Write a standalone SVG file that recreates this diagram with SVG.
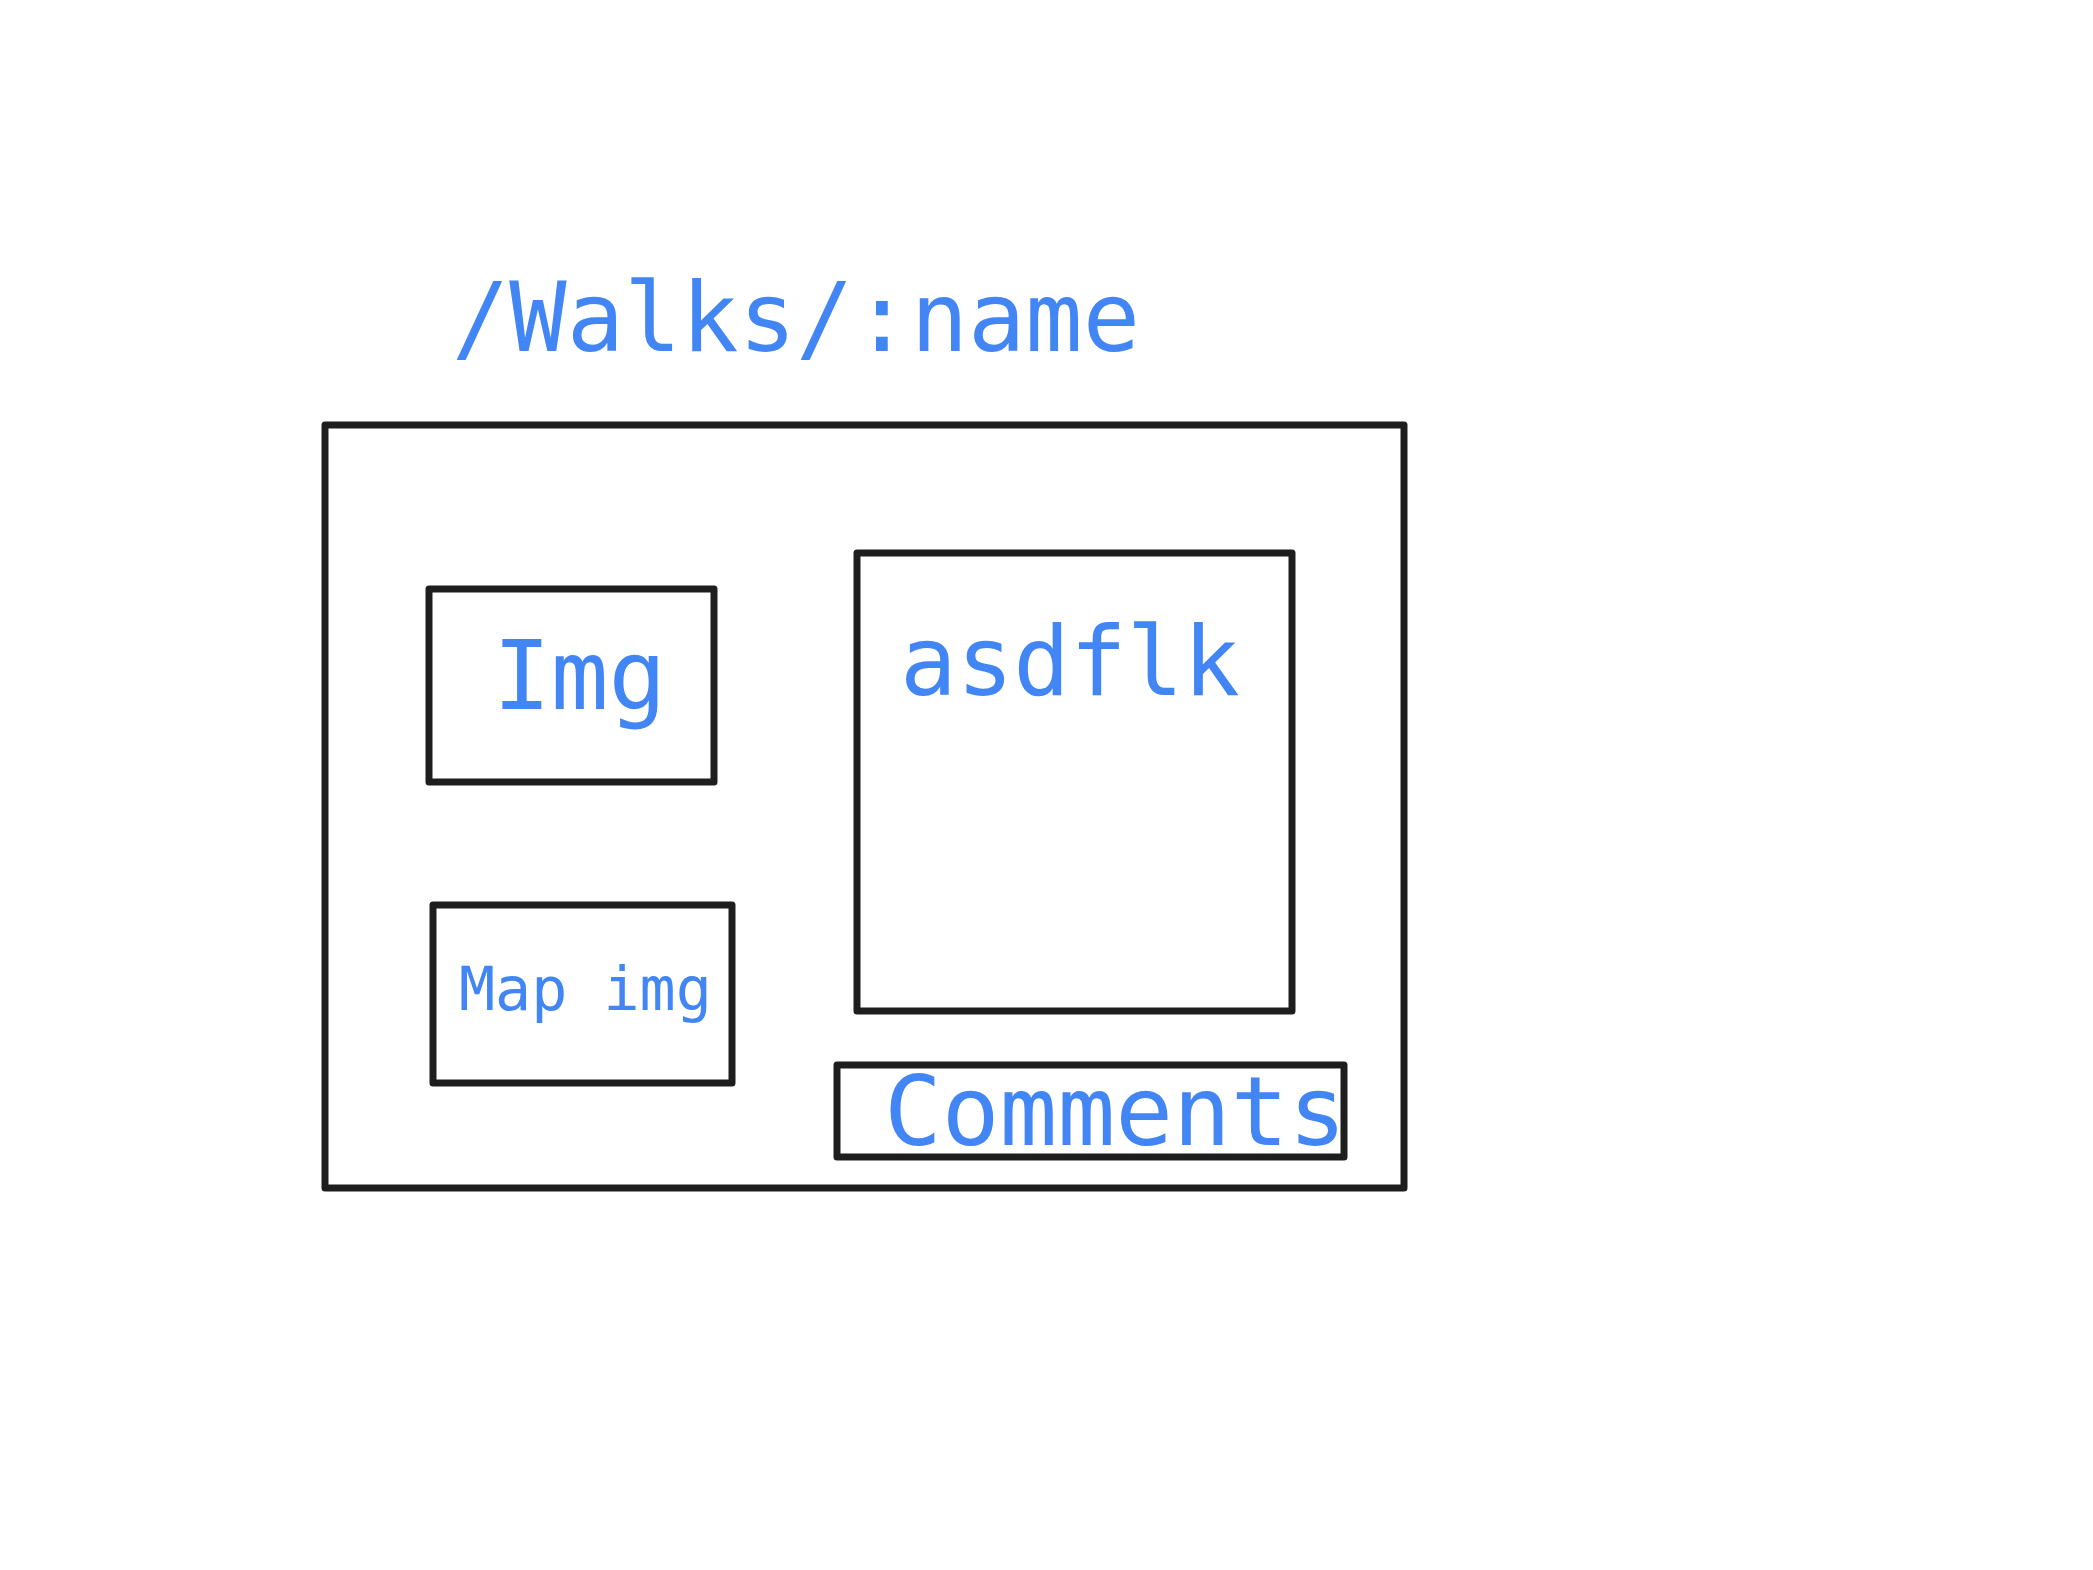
<svg xmlns="http://www.w3.org/2000/svg" width="2093" height="1570" viewBox="0 0 2093 1570">
<style>
.box{fill:none;stroke:#1e1e1e;stroke-width:7;stroke-linejoin:round}
.t{fill:#4285f4;font-family:"DejaVu Sans Mono","Liberation Mono",monospace}
.big{font-size:96px}
.small{font-size:60px}
</style>
<rect width="2093" height="1570" fill="#ffffff"/>
<g id="title"><text class="t big" x="452" y="351" textLength="688" lengthAdjust="spacingAndGlyphs">/Walks/:name</text></g>
<g id="page"><rect class="box" x="325" y="425" width="1079" height="763"/></g>
<g id="img"><rect class="box" x="429" y="589" width="285" height="193"/><text class="t big" x="493" y="709">Img</text></g>
<g id="asdflk"><rect class="box" x="857" y="553" width="435" height="458"/><text class="t big" x="900" y="695" textLength="340" lengthAdjust="spacingAndGlyphs">asdflk</text></g>
<g id="mapimg"><rect class="box" x="433" y="905" width="299" height="178"/><text class="t small" x="459" y="1010">Map img</text></g>
<g id="comments"><rect class="box" x="837" y="1065" width="507" height="92"/><text class="t big" x="884" y="1145">Comments</text></g>
<g id="connectors"></g>
</svg>
